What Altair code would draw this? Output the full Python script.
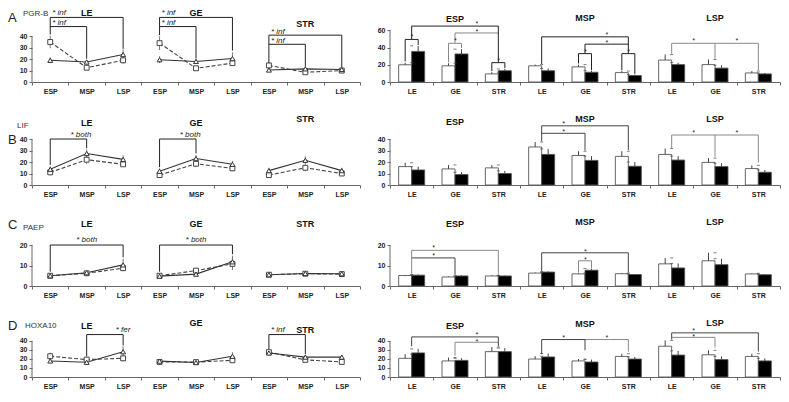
import altair as alt
import pandas as pd

PHASES = ["ESP", "MSP", "LSP"]
TISSUES = ["LE", "GE", "STR"]
FONT = "Liberation Sans"

# ---------------- values ----------------
# line charts: rows = LE, GE, STR ; columns = ESP, MSP, LSP
PGRB_SOLID = [[19, 17.5, 24], [19.5, 18, 20.5], [10.5, 11.5, 11]]
PGRB_SOLID_ERR = [[2.5, 2, 4.5], [3, 2, 5.5], [1.5, 1.5, 1.5]]
PGRB_DASHED = [[35, 12.5, 19], [34, 12, 16.5], [14.5, 8.5, 10]]
PGRB_DASHED_ERR = [[5.5, 2, 3], [6, 1.5, 2.5], [1.5, 1.5, 1.5]]
# bar charts: rows = ESP, MSP, LSP ; columns = LE, GE, STR
PGRB_WHITE = [[20, 18.8, 9.4], [18.8, 17.6, 10.9], [25.5, 20.2, 10.5]]
PGRB_WHITE_ERR = [[2.5, 3, 2], [1.5, 2.6, 1.8], [6.4, 6, 2.2]]
PGRB_BLACK = [[35.6, 32.6, 13.1], [13.1, 11.3, 7.5], [20.2, 16.1, 9.4]]
PGRB_BLACK_ERR = [[6.4, 5.6, 2], [2.6, 1.9, 1.1], [2.3, 3.4, 1.1]]

LIF_SOLID = [[13.7, 27.4, 22.3], [12, 23, 18], [12.5, 21.5, 12.5]]
LIF_SOLID_ERR = [[2.5, 3.5, 3.5], [2.5, 3, 3], [2.5, 3.5, 2.5]]
LIF_DASHED = [[11, 22, 18], [8.6, 18.5, 14.5], [8.6, 15, 10]]
LIF_DASHED_ERR = [[2.5, 3.5, 2], [1.5, 3, 2.5], [1.5, 3, 1.5]]
LIF_WHITE = [[16, 14, 14.9], [33.1, 25.7, 24.9], [26.6, 19.7, 14.3]]
LIF_WHITE_ERR = [[3.4, 3.4, 2.5], [4.3, 3.7, 4.5], [5.1, 3.7, 2.8]]
LIF_BLACK = [[13.1, 9.1, 10], [26.6, 21.4, 16.3], [21.7, 16, 11.1]]
LIF_BLACK_ERR = [[2.9, 2, 2.3], [4.8, 3.7, 3.7], [3.4, 2.9, 2]]

PAEP_SOLID = [[5, 6.5, 10.3], [4.8, 5.8, 11.8], [5.5, 6.1, 6]]
PAEP_SOLID_ERR = [[0.4, 0.5, 3], [0.4, 0.6, 3], [0.3, 0.3, 0.3]]
PAEP_DASHED = [[5, 6.2, 8.7], [5, 7.5, 10.8], [5.5, 6, 5.8]]
PAEP_DASHED_ERR = [[0.4, 0.5, 1.5], [0.4, 0.8, 3], [0.3, 0.3, 0.3]]
PAEP_WHITE = [[5.1, 4.4, 4.9], [6.3, 5.9, 6], [10.8, 12.3, 5.9]]
PAEP_WHITE_ERR = [[0.3, 0.3, 0.3], [0.3, 0.4, 0.3], [2.9, 3.9, 0.3]]
PAEP_BLACK = [[5.3, 4.9, 4.9], [6.8, 7.7, 5.6], [8.8, 10.4, 5.5]]
PAEP_BLACK_ERR = [[0.3, 0.3, 0.2], [0.3, 0.8, 0.2], [2.2, 2.9, 0.3]]

HOXA_SOLID = [[17.8, 16.3, 28], [17.6, 16, 23], [26.6, 22, 22]]
HOXA_SOLID_ERR = [[2.5, 2, 6], [2, 1.5, 4.5], [3, 3, 2.5]]
HOXA_DASHED = [[23, 19.3, 20.7], [16.7, 16.5, 18.5], [27.5, 19, 16.7]]
HOXA_DASHED_ERR = [[4, 3, 3.5], [2, 1.5, 3], [2.5, 2.5, 2.5]]
HOXA_WHITE = [[20.7, 17.8, 28.1], [19.9, 17.8, 22.8], [34.1, 24.6, 22.8]]
HOXA_WHITE_ERR = [[4.5, 3.8, 5.1], [3.2, 2.1, 3], [6.5, 5, 3]]
HOXA_BLACK = [[26.7, 18.4, 28.1], [22.2, 16.6, 19.9], [24.3, 19.3, 17.8]]
HOXA_BLACK_ERR = [[4.4, 2.3, 3.9], [3.9, 2.7, 2.3], [4.7, 3.5, 2.9]]

# significance brackets of the line charts: (tissue, phase1, phase2, y, leg1 bottom, leg2 bottom, colour)
PGRB_LINE_BRACKETS = [("LE", "ESP", "LSP", 56.5, 41.5, 29, "#222"), ("LE", "ESP", "MSP", 48.5, None, 20.5, "#222"),
                      ("GE", "ESP", "LSP", 56.5, 41, 27.5, "#222"), ("GE", "ESP", "MSP", 48.5, None, 20.5, "#222"),
                      ("STR", "ESP", "LSP", 41, 16.5, 13, "#222"), ("STR", "ESP", "MSP", 33, None, 13.5, "#222")]
PGRB_LINE_STARS = [("LE", "ESP", "c", 61, "* inf", "left"), ("LE", "ESP", "c", 52.5, "* inf", "left"),
                   ("GE", "ESP", "c", 61, "* inf", "left"), ("GE", "ESP", "c", 52.5, "* inf", "left"),
                   ("STR", "ESP", "c", 45, "* inf", "left"), ("STR", "ESP", "c", 37, "* inf", "left")]
LIF_LINE_BRACKETS = [("LE", "ESP", "MSP", 40, 17.5, 32, "#222"), ("GE", "ESP", "MSP", 40, 15.5, 27.5, "#222")]
LIF_LINE_STARS = [("LE", "ESP", "r", 44, "* both", "left"), ("GE", "ESP", "r", 44, "* both", "left")]
PAEP_LINE_BRACKETS = [("LE", "ESP", "LSP", 20, 7, 14, "#222"), ("GE", "ESP", "LSP", 20, 7, 15.5, "#222")]
PAEP_LINE_STARS = [("LE", "MSP", "c", 23, "* both", "center"), ("GE", "MSP", "c", 23, "* both", "center")]
HOXA_LINE_BRACKETS = [("LE", "MSP", "LSP", 47, 23, 35, "#222"), ("STR", "ESP", "MSP", 47, 31, 25.5, "#222")]
HOXA_LINE_STARS = [("LE", "LSP", "c", 53.5, "* fer", "center"), ("STR", "ESP", "c", 53.5, "* inf", "left")]

# significance brackets of the bar charts: (phase, tissue1, side1, tissue2, side2, y, leg1 bottom, leg2 bottom, colour)
PGRB_BAR_BRACKETS = [("ESP", "LE", "w", "LE", "b", 49.5, 24, 43, "#222"),
                     ("ESP", "GE", "w", "GE", "b", 45, 23, 39.5, "#888"),
                     ("ESP", "STR", "w", "STR", "b", 22.5, 12.5, 16, "#222"),
                     ("ESP", "LE", "c", "STR", "c", 65, 49.5, 22.5, "#222"),
                     ("ESP", "GE", "c", "STR", "c", 57, 45, None, "#888"),
                     ("MSP", "LE", "c", "STR", "c", 52.5, 21, 33, "#222"),
                     ("MSP", "GE", "c", "STR", "c", 44, 33, None, "#222"),
                     ("MSP", "GE", "w", "GE", "b", 33, 21.5, 14, "#222"),
                     ("MSP", "STR", "w", "STR", "b", 33, 13.5, 9.5, "#222"),
                     ("LSP", "LE", "c", "GE", "c", 45, 33, 27, "#888"),
                     ("LSP", "GE", "c", "STR", "c", 45, None, 13.5, "#888")]
PGRB_BAR_STARS = [("ESP", "LE", "c", 54.5), ("ESP", "GE", "c", 50), ("ESP", "STR", "c", 27),
                  ("ESP", "GE", "r", 69.5), ("ESP", "GE", "r", 60.5), ("MSP", "GE", "r", 57),
                  ("MSP", "GE", "r", 47.5), ("MSP", "GE", "c", 37), ("MSP", "STR", "c", 37),
                  ("LSP", "LE", "r", 49.5), ("LSP", "GE", "r", 49.5)]
LIF_BAR_BRACKETS = [("MSP", "LE", "c", "STR", "c", 51.5, 38, 30.5, "#444"),
                    ("MSP", "LE", "c", "GE", "c", 45, None, 30, "#444"),
                    ("LSP", "LE", "c", "GE", "c", 43.5, 32, 24.5, "#888"),
                    ("LSP", "GE", "c", "STR", "c", 43.5, None, 19.5, "#888")]
LIF_BAR_STARS = [("MSP", "LE", "r", 54.5), ("MSP", "LE", "r", 48), ("LSP", "LE", "r", 47), ("LSP", "GE", "r", 47)]
PAEP_BAR_BRACKETS = [("ESP", "LE", "c", "STR", "c", 17.4, 6, 5.5, "#888"),
                     ("ESP", "LE", "c", "GE", "c", 13.7, None, 5.5, "#444"),
                     ("MSP", "LE", "c", "STR", "c", 16.2, 7.2, 6.5, "#444"),
                     ("MSP", "GE", "w", "GE", "b", 12.3, 6.6, 8.8, "#888")]
PAEP_BAR_STARS = [("ESP", "LE", "r", 19.4), ("ESP", "LE", "r", 15.4), ("MSP", "GE", "c", 17.6), ("MSP", "GE", "c", 13.8)]
HOXA_BAR_BRACKETS = [("ESP", "LE", "c", "STR", "c", 44.4, 34, 34, "#444"),
                     ("ESP", "GE", "c", "STR", "c", 38.5, 23.7, None, "#888"),
                     ("MSP", "LE", "c", "GE", "c", 41.5, 25.2, 29.6, "#444"),
                     ("MSP", "GE", "c", "STR", "c", 41.5, None, 28.1, "#888"),
                     ("LSP", "LE", "c", "STR", "c", 48.9, 41.5, 28.1, "#444"),
                     ("LSP", "LE", "c", "GE", "c", 43.9, None, 32.6, "#888")]
HOXA_BAR_STARS = [("ESP", "GE", "r", 49), ("ESP", "GE", "r", 41), ("MSP", "LE", "r", 45), ("MSP", "GE", "r", 45),
                  ("LSP", "LE", "r", 53.4), ("LSP", "LE", "r", 46)]

# panel titles
PGRB_LINE_TITLES = [("LE", 60.5), ("GE", 60.5), ("STR", 51)]
PGRB_BAR_TITLES = [("ESP", 73.5), ("MSP", 74.5), ("LSP", 74)]
LIF_LINE_TITLES = [("LE", 54), ("GE", 54), ("STR", 57.4)]
LIF_BAR_TITLES = [("ESP", 54.8), ("MSP", 57.4), ("LSP", 57.4)]
PAEP_LINE_TITLES = [("LE", 30.2), ("GE", 30.2), ("STR", 30.2)]
PAEP_BAR_TITLES = [("ESP", 30.2), ("MSP", 31.2), ("LSP", 31.2)]
HOXA_LINE_TITLES = [("LE", 56), ("GE", 59.5), ("STR", 52.5)]
HOXA_BAR_TITLES = [("ESP", 56), ("MSP", 59), ("LSP", 60)]

BP = {"c": 0.5, "w": 0.35, "b": 0.65, "r": 1.0}


def axes(yticks):
    xax = alt.Axis(title=None, labelExpr="split(datum.value, '|')[1]", tickBand="extent", labelAngle=0,
                   labelPadding=2, tickSize=3, domainColor="#666", tickColor="#666")
    yax = alt.Axis(title=None, values=yticks, domain=False, tickSize=3, labelPadding=2, tickColor="#666")
    return xax, yax


def common_layers(layers, X, Y, hb, legs, stars, titles, yticks, star_dy, star_size):
    layers.insert(0, alt.Chart(pd.DataFrame({"y0": [0], "y1": [yticks[-1]]})).mark_rule(color="#666").encode(
        x=alt.value(0), y=Y("y0"), y2=alt.Y2("y1:Q")))
    groups = {}
    for r in hb:
        groups.setdefault((r["b1"], r["b2"]), []).append(r)
    for (b1, b2), rows in groups.items():
        layers.append(alt.Chart(pd.DataFrame(rows)).mark_rule(strokeWidth=1).encode(
            x=X("c1", b1), x2=alt.X2("c2:N", bandPosition=b2), y=Y("y"), color=alt.Color("col:N", scale=None)))
    lg = {}
    for r in legs:
        lg.setdefault(r["bp"], []).append(r)
    for bp, rows in lg.items():
        layers.append(alt.Chart(pd.DataFrame(rows)).mark_rule(strokeWidth=1).encode(
            x=X("c", bp), y=Y("y"), y2=alt.Y2("yb:Q"), color=alt.Color("col:N", scale=None)))
    sg = {}
    for r in stars:
        sg.setdefault((r["bp"], r["align"]), []).append(r)
    for (bp, al), rows in sg.items():
        layers.append(alt.Chart(pd.DataFrame(rows)).mark_text(
            align=al, baseline="middle", dx=2 if al == "left" else 0, dy=star_dy, fontSize=star_size,
            fontStyle="italic", fill="#222", font=FONT).encode(x=X("c", bp), y=Y("y"), text="txt:N"))
    layers.append(alt.Chart(pd.DataFrame(titles)).mark_text(
        fontWeight="bold", fontSize=9, fill="#111", font=FONT).encode(x=X("c", 0.5), y=Y("y"), text="txt:N"))


def line_panel(solid, solid_err, dashed, dashed_err, brackets, stars, titles, letter, gene, gene_x,
               letter_y, gene_y, ymax, yticks, height, width):
    xdom = [f"{t}|{p}" for t in TISSUES for p in PHASES]
    xs = alt.Scale(type="band", domain=xdom, paddingInner=0, paddingOuter=0)
    ys = alt.Scale(domain=[0, ymax], nice=False, zero=False)
    xax, yax = axes(yticks)

    def X(f, bp=0.5):
        return alt.X(f"{f}:N", scale=xs, axis=xax, bandPosition=bp)

    def Y(f):
        return alt.Y(f"{f}:Q", scale=ys, axis=yax)

    recs = []
    for name, vals, errs in [("solid", solid, solid_err), ("dashed", dashed, dashed_err)]:
        for ti, t in enumerate(TISSUES):
            for pi, p in enumerate(PHASES):
                v, e = vals[ti][pi], errs[ti][pi]
                recs.append({"cat": f"{t}|{p}", "tissue": t, "order": pi, "series": name,
                             "v": v, "lo": v - e, "hi": v + e})
    df = pd.DataFrame(recs)
    ds = df[df.series == "solid"]
    dd = df[df.series == "dashed"]
    layers = [
        alt.Chart(df).mark_rule(color="#777", strokeWidth=1).encode(x=X("cat"), y=Y("lo"), y2=alt.Y2("hi:Q")),
        alt.Chart(dd).mark_line(color="#444", strokeWidth=1.1, strokeDash=[4, 2]).encode(
            x=X("cat"), y=Y("v"), detail="tissue:N", order="order:Q"),
        alt.Chart(ds).mark_line(color="#333", strokeWidth=1.1).encode(
            x=X("cat"), y=Y("v"), detail="tissue:N", order="order:Q"),
        alt.Chart(dd).mark_point(shape="square", filled=True, fill="white", stroke="#444", strokeWidth=1,
                                 size=24, opacity=1).encode(x=X("cat"), y=Y("v")),
        alt.Chart(ds).mark_point(shape="triangle-up", filled=True, fill="white", stroke="#333", strokeWidth=1,
                                 size=24, opacity=1).encode(x=X("cat"), y=Y("v")),
    ]
    hb, legs, st = [], [], []
    for (t, p1, p2, y, lb1, lb2, col) in brackets:
        hb.append({"c1": f"{t}|{p1}", "c2": f"{t}|{p2}", "y": y, "col": col, "b1": 0.5, "b2": 0.5})
        for p, lb in [(p1, lb1), (p2, lb2)]:
            if lb is not None:
                legs.append({"c": f"{t}|{p}", "y": y, "yb": lb, "col": col, "bp": 0.5})
    for (t, p, anc, y, txt, al) in stars:
        st.append({"c": f"{t}|{p}", "y": y, "txt": txt, "align": al, "bp": BP[anc]})
    tt = [{"c": f"{t}|MSP", "y": y, "txt": t} for t, y in titles]
    common_layers(layers, X, Y, hb, legs, st, tt, yticks, 1, 8)
    layers.append(alt.Chart(pd.DataFrame({"y": [letter_y], "txt": [letter]})).mark_text(
        align="left", fontSize=13, fill="#222", font=FONT).encode(x=alt.value(-24), y=Y("y"), text="txt:N"))
    layers.append(alt.Chart(pd.DataFrame({"y": [gene_y], "txt": [gene]})).mark_text(
        align="left", fontSize=8, fill="#333", font=FONT).encode(x=alt.value(gene_x), y=Y("y"), text="txt:N"))
    return alt.layer(*layers).properties(width=width, height=height)


def bar_panel(white, white_err, black, black_err, brackets, stars, titles, ymax, yticks, height, width):
    xdom = [f"{p}|{t}" for p in PHASES for t in TISSUES]
    xs = alt.Scale(type="band", domain=xdom, paddingInner=0, paddingOuter=0)
    ys = alt.Scale(domain=[0, ymax], nice=False, zero=False)
    xax, yax = axes(yticks)

    def X(f, bp=0.5):
        return alt.X(f"{f}:N", scale=xs, axis=xax, bandPosition=bp)

    def Y(f):
        return alt.Y(f"{f}:Q", scale=ys, axis=yax)

    recs = []
    for s, vals, errs in [("w", white, white_err), ("b", black, black_err)]:
        for pi, p in enumerate(PHASES):
            for ti, t in enumerate(TISSUES):
                v, e = vals[pi][ti], errs[pi][ti]
                recs.append({"g": f"{p}|{t}", "s": s, "v": v, "hi": v + e})
    df = pd.DataFrame(recs)
    layers = [
        alt.Chart(df).mark_bar(stroke="#555", strokeWidth=0.9).encode(
            x=alt.X("g:N", scale=xs, axis=xax),
            xOffset=alt.XOffset("s:N", scale=alt.Scale(domain=["w", "b"], paddingOuter=2 / 3, paddingInner=0)),
            y=Y("v"),
            fill=alt.Fill("s:N", scale=alt.Scale(domain=["w", "b"], range=["white", "black"]), legend=None)),
    ]
    for s in ["w", "b"]:
        d = df[df.s == s]
        layers.append(alt.Chart(d).mark_rule(color="#444", strokeWidth=1).encode(
            x=X("g", BP[s]), y=Y("v"), y2=alt.Y2("hi:Q")))
        layers.append(alt.Chart(d).mark_tick(color="#444", size=3, thickness=1).encode(
            x=X("g", BP[s]), y=Y("hi")))
    hb, legs, st = [], [], []
    for (p, t1, s1, t2, s2, y, lb1, lb2, col) in brackets:
        hb.append({"c1": f"{p}|{t1}", "c2": f"{p}|{t2}", "y": y, "col": col, "b1": BP[s1], "b2": BP[s2]})
        for t, s, lb in [(t1, s1, lb1), (t2, s2, lb2)]:
            if lb is not None:
                legs.append({"c": f"{p}|{t}", "y": y, "yb": lb, "col": col, "bp": BP[s]})
    for (p, t, anc, y) in stars:
        st.append({"c": f"{p}|{t}", "y": y, "txt": "*", "align": "center", "bp": BP[anc]})
    tt = [{"c": f"{p}|GE", "y": y, "txt": p} for p, y in titles]
    common_layers(layers, X, Y, hb, legs, st, tt, yticks, 2, 7)
    return alt.layer(*layers).properties(width=width, height=height)


WL, WR = 328, 390
panels = [
    line_panel(PGRB_SOLID, PGRB_SOLID_ERR, PGRB_DASHED, PGRB_DASHED_ERR, PGRB_LINE_BRACKETS, PGRB_LINE_STARS,
               PGRB_LINE_TITLES, "A", "PGR-B", -9, 56, 59.5, 63, [0, 10, 20, 30, 40], 72, WL),
    bar_panel(PGRB_WHITE, PGRB_WHITE_ERR, PGRB_BLACK, PGRB_BLACK_ERR, PGRB_BAR_BRACKETS, PGRB_BAR_STARS,
              PGRB_BAR_TITLES, 83.7, [0, 20, 40, 60], 72, WR),
    line_panel(LIF_SOLID, LIF_SOLID_ERR, LIF_DASHED, LIF_DASHED_ERR, LIF_LINE_BRACKETS, LIF_LINE_STARS,
               LIF_LINE_TITLES, "B", "LIF", -15, 39, 51, 67, [0, 10, 20, 30, 40], 77, WL),
    bar_panel(LIF_WHITE, LIF_WHITE_ERR, LIF_BLACK, LIF_BLACK_ERR, LIF_BAR_BRACKETS, LIF_BAR_STARS,
              LIF_BAR_TITLES, 67, [0, 10, 20, 30, 40], 77, WR),
    line_panel(PAEP_SOLID, PAEP_SOLID_ERR, PAEP_DASHED, PAEP_DASHED_ERR, PAEP_LINE_BRACKETS, PAEP_LINE_STARS,
               PAEP_LINE_TITLES, "C", "PAEP", -9, 29.8, 28.3, 36.6, [0, 10, 20], 75, WL),
    bar_panel(PAEP_WHITE, PAEP_WHITE_ERR, PAEP_BLACK, PAEP_BLACK_ERR, PAEP_BAR_BRACKETS, PAEP_BAR_STARS,
              PAEP_BAR_TITLES, 36.6, [0, 10, 20], 75, WR),
    line_panel(HOXA_SOLID, HOXA_SOLID_ERR, HOXA_DASHED, HOXA_DASHED_ERR, HOXA_LINE_BRACKETS, HOXA_LINE_STARS,
               HOXA_LINE_TITLES, "D", "HOXA10", -7, 56, 56, 72, [0, 10, 20, 30, 40], 65, WL),
    bar_panel(HOXA_WHITE, HOXA_WHITE_ERR, HOXA_BLACK, HOXA_BLACK_ERR, HOXA_BAR_BRACKETS, HOXA_BAR_STARS,
              HOXA_BAR_TITLES, 72, [0, 10, 20, 30, 40], 65, WR),
]

chart = alt.concat(*panels, columns=2, spacing=alt.RowColnumber(row=26, column=30), bounds="flush",
                   align="each").properties(
    padding={"left": 0, "top": 0, "right": 0, "bottom": 0}
).configure_view(stroke=None).configure_axis(
    labelFont=FONT, labelFontWeight="bold", labelFontSize=7, labelColor="#222", grid=False
).configure_text(font=FONT)

chart.save("out.html", embed_options={"renderer": "svg", "actions": False})
